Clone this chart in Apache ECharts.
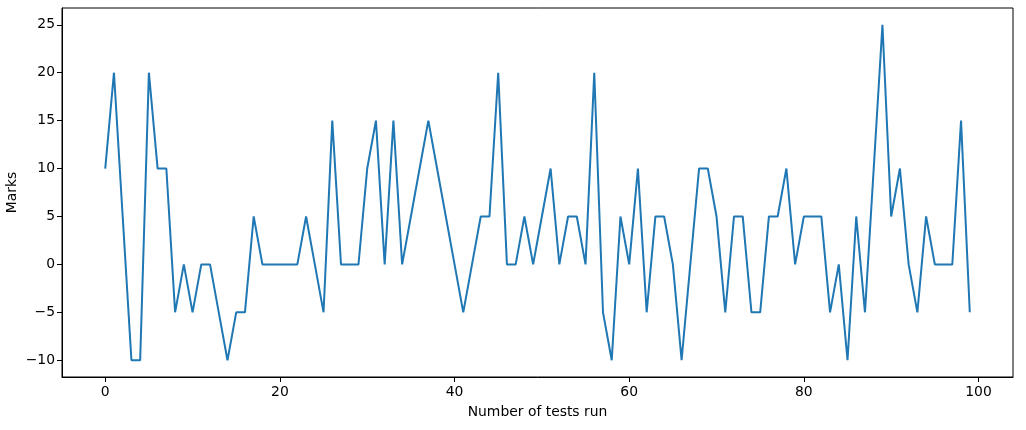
<!DOCTYPE html>
<html>
<head>
<meta charset="utf-8">
<script src="https://cdn.jsdelivr.net/npm/echarts@6/dist/echarts.min.js"></script>
<style>html,body{margin:0;padding:0;background:#fff}#c{width:1026px;height:430px}</style>
</head>
<body>
<div id="c"></div>
<script>
const testsRun = Array.from({length: 100}, (_, i) => i);
const marks = [
  10, 20, 5, -10, -10, 20, 10, 10, -5, 0,
  -5, 0, 0, -5, -10, -5, -5, 5, 0, 0,
  0, 0, 0, 5, 0, -5, 15, 0, 0, 0,
  10, 15, 0, 15, 0, 5, 10, 15, 10, 5,
  0, -5, 0, 5, 5, 20, 0, 0, 5, 0,
  5, 10, 0, 5, 5, 0, 20, -5, -10, 5,
  0, 10, -5, 5, 5, 0, -10, 0, 10, 10,
  5, -5, 5, 5, -5, -5, 5, 5, 10, 0,
  5, 5, 5, -5, 0, -10, 5, -5, 10, 25,
  5, 10, 0, -5, 5, 0, 0, 0, 15, -5
];
const xTicks = [0, 20, 40, 60, 80, 100];
const yTicks = [-10, -5, 0, 5, 10, 15, 20, 25];

const font = 'DejaVu Sans';
const fmt = v => String(v).replace('-', '\u2212');
const chart = echarts.init(document.getElementById('c'), null, {renderer: 'canvas'});
chart.setOption({
  animation: false,
  grid: {left: 62, right: 13, top: 8, bottom: 53, containLabel: false, outerBoundsMode: 'none',
         show: true, borderColor: '#000', borderWidth: 1, backgroundColor: 'transparent'},
  xAxis: {
    type: 'value', min: -4.95, max: 103.95,
    name: 'Number of tests run', nameLocation: 'middle', nameGap: 28, nameMoveOverlap: false,
    nameTextStyle: {fontFamily: font, fontSize: 13.9, color: '#000'},
    axisLine: {show: true, onZero: false, lineStyle: {color: '#000', width: 1}},
    axisTick: {show: true, length: 5, lineStyle: {color: '#000'}, customValues: xTicks},
    axisLabel: {margin: 8, fontFamily: font, fontSize: 13.9, color: '#000', customValues: xTicks, formatter: fmt},
    splitLine: {show: false}
  },
  yAxis: {
    type: 'value', min: -11.75, max: 26.75,
    name: 'Marks', nameLocation: 'middle', nameGap: 43, nameRotate: 90, nameMoveOverlap: false,
    nameTextStyle: {fontFamily: font, fontSize: 13.9, color: '#000'},
    axisLine: {show: true, onZero: false, lineStyle: {color: '#000', width: 1}},
    axisTick: {show: true, length: 5, lineStyle: {color: '#000'}, customValues: yTicks},
    axisLabel: {margin: 7, fontFamily: font, fontSize: 13.9, color: '#000', customValues: yTicks, formatter: fmt},
    splitLine: {show: false}
  },
  series: [{
    type: 'line',
    data: testsRun.map((x, i) => [x, marks[i]]),
    showSymbol: false,
    lineStyle: {color: '#1f77b4', width: 2},
    itemStyle: {color: '#1f77b4'}
  }]
});
</script>
</body>
</html>
